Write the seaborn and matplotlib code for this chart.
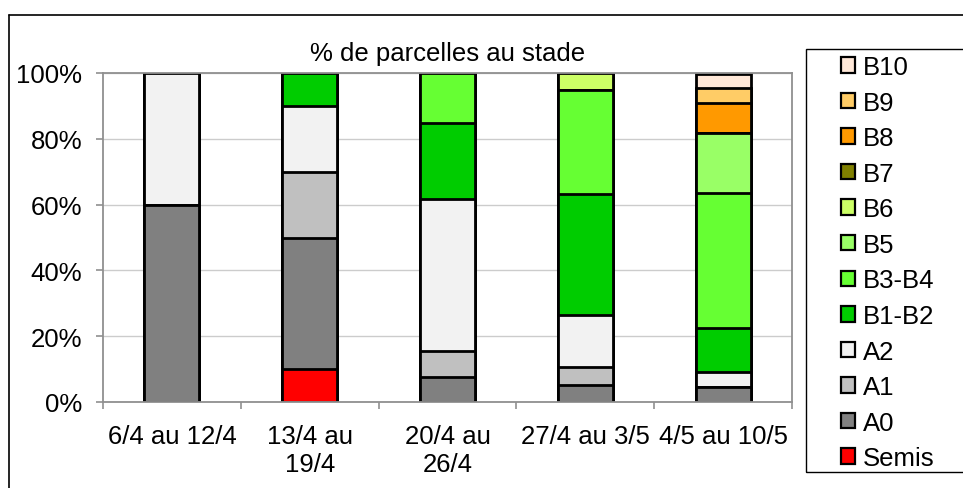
# Stacked bars: share of plots at each growth stage, per week
import matplotlib.pyplot as plt
from matplotlib.lines import Line2D
from matplotlib.patches import Patch, Rectangle
import pandas as pd
import seaborn as sns

# -----------------------------------------------------------------------
# Data (percent of plots)
periods = ['6/4 au 12/4', '13/4 au\n19/4', '20/4 au\n26/4',
           '27/4 au 3/5', '4/5 au 10/5']
stages = ['Semis', 'A0', 'A1', 'A2', 'B1-B2', 'B3-B4',
          'B5', 'B6', 'B7', 'B8', 'B9', 'B10']

semis = [0, 10, 0, 0, 0]
a0 = [60, 40, 7.7, 5.3, 4.5]
a1 = [0, 20, 7.7, 5.3, 0]
a2 = [40, 20, 46.2, 15.8, 4.5]
b1_b2 = [0, 10, 23.1, 36.8, 13.6]
b3_b4 = [0, 0, 15.4, 31.6, 40.9]
b5 = [0, 0, 0, 0, 18.2]
b6 = [0, 0, 0, 5.3, 0]
b7 = [0, 0, 0, 0, 0]
b8 = [0, 0, 0, 0, 9.1]
b9 = [0, 0, 0, 0, 4.5]
b10 = [0, 0, 0, 0, 4.5]

colors = {'Semis': '#FF0000', 'A0': '#808080', 'A1': '#C0C0C0',
          'A2': '#F2F2F2', 'B1-B2': '#00CC00', 'B3-B4': '#66FF33',
          'B5': '#99FF66', 'B6': '#CCFF66', 'B7': '#808000',
          'B8': '#FF9900', 'B9': '#FFCC66', 'B10': '#FFE8D8'}

frame = pd.DataFrame(dict(zip(stages, [semis, a0, a1, a2, b1_b2, b3_b4,
                                        b5, b6, b7, b8, b9, b10])))
cum = frame.cumsum(axis=1)
cum['Periode'] = periods

# -----------------------------------------------------------------------
# Canvas
sns.set_style('white')
plt.rcParams['font.family'] = ['Liberation Sans', 'DejaVu Sans']
plt.rcParams['text.color'] = 'black'
plt.rcParams['xtick.labelcolor'] = 'black'
plt.rcParams['ytick.labelcolor'] = 'black'
fs = 18.5

W, H = 963, 489
fig = plt.figure(figsize=(W / 100, H / 100), dpi=100)
ax = fig.add_axes([103 / W, 1 - 403 / H, (792 - 103) / W, (403 - 74) / H])

# Draw cumulative layers from the top stage down
for stage in reversed(stages):
    sns.barplot(data=cum, x='Periode', y=stage, color=colors[stage],
                width=0.4, saturation=1, edgecolor='black', linewidth=2.0,
                errorbar=None, ax=ax)

ax.set_xlim(-0.5, len(periods) - 0.5)
ax.set_ylim(0, 100)
ax.set_yticks(range(0, 101, 20))
ax.set_yticklabels([f'{v}%' for v in range(0, 101, 20)], fontsize=fs)
ax.set_xticks(range(len(periods)))
ax.set_xticklabels(periods, fontsize=fs)
ax.set_xticks([i - 0.5 for i in range(len(periods) + 1)], minor=True)
ax.set_xlabel('')
ax.set_ylabel('')

ax.set_axisbelow(True)
ax.yaxis.grid(True, color='#CCCCCC', linewidth=1)
for sp in ax.spines.values():
    sp.set_color('#909090')
    sp.set_linewidth(1.3)
ax.tick_params(axis='y', left=True, length=5, width=1.2, color='#909090',
               labelcolor='black', pad=10)
ax.tick_params(axis='x', which='major', bottom=True, length=0,
               labelcolor='black', pad=16)
ax.tick_params(axis='x', which='minor', bottom=True, length=5, width=1.2,
               color='#909090')

ax.set_title('% de parcelles au stade', fontsize=fs, color='black', pad=9)

# Legend (reversed order, boxed)
handles = [Patch(facecolor=colors[s], edgecolor='black', linewidth=1.6,
                 label=s) for s in reversed(stages)]
leg = fig.legend(handles=handles, loc='upper left',
                 bbox_to_anchor=(841 / W, 1 - 56 / H), frameon=False,
                 fontsize=fs, handlelength=0.55, handleheight=0.55,
                 handletextpad=0.3, labelspacing=0.45, borderpad=0,
                 borderaxespad=0, labelcolor='black')
fig.add_artist(Rectangle((806 / W, 1 - 473 / H), (980 - 806) / W,
                         (473 - 50) / H, transform=fig.transFigure,
                         fill=False, edgecolor='black', linewidth=1))

# Chart area border (left and top visible)
fig.add_artist(Line2D([9 / W, 9 / W], [0, 1 - 16 / H], color='black',
                      linewidth=1.2))
fig.add_artist(Line2D([9 / W, 1], [1 - 16 / H, 1 - 16 / H], color='black',
                      linewidth=1.2))

fig.savefig('out.png', dpi=100)
